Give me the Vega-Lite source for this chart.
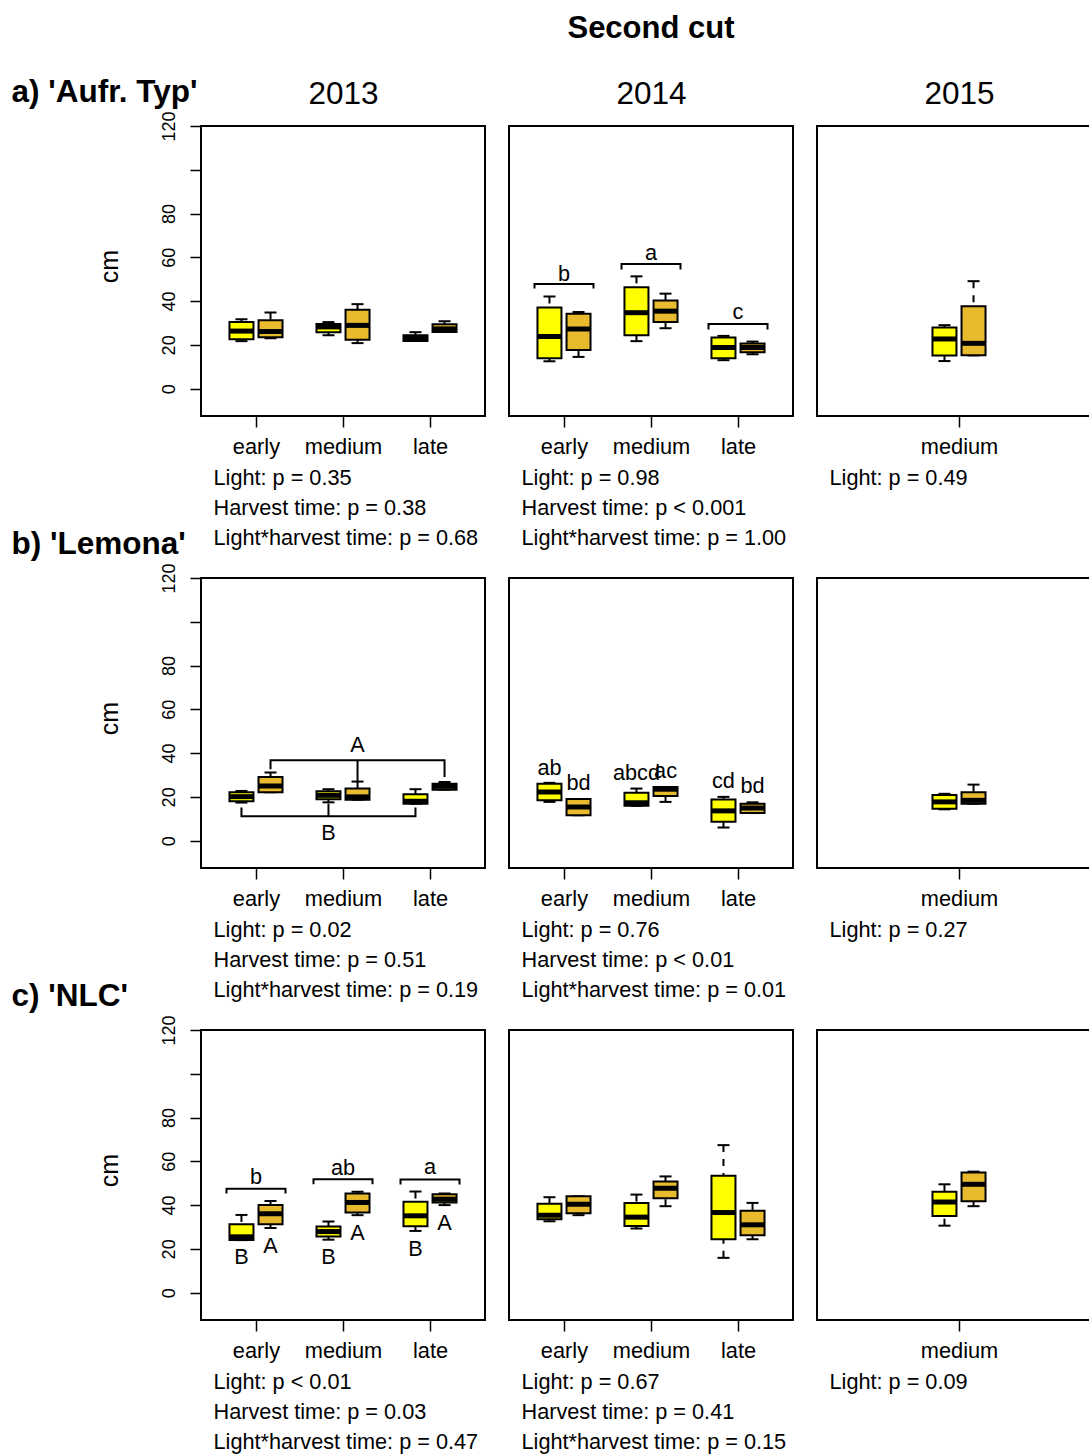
{
"$schema":"https://vega.github.io/schema/vega-lite/v6.json",
"background":"white",
"padding":{"left":10,"top":13,"right":0,"bottom":0},
"title":{"text":"Second cut","fontWeight":"bold","fontSize":31,"anchor":"middle","frame":"group","dx":450,"offset":30},
"data":{"values":[
{"k":"bx","p":"a13","h":"early","l":"L1","lo":21.7,"q1":22.6,"md":26.3,"q3":30.5,"hi":31.7},
{"k":"bx","p":"a13","h":"early","l":"L2","lo":23.0,"q1":23.5,"md":26.1,"q3":31.3,"hi":34.8},
{"k":"bx","p":"a13","h":"medium","l":"L1","lo":24.4,"q1":25.8,"md":28.2,"q3":29.5,"hi":30.4},
{"k":"bx","p":"a13","h":"medium","l":"L2","lo":20.8,"q1":22.3,"md":28.9,"q3":36.0,"hi":38.6},
{"k":"bx","p":"a13","h":"late","l":"L1","lo":21.8,"q1":21.8,"md":23.0,"q3":24.4,"hi":25.8},
{"k":"bx","p":"a13","h":"late","l":"L2","lo":25.9,"q1":25.9,"md":27.3,"q3":29.4,"hi":30.8},
{"k":"bx","p":"a14","h":"early","l":"L1","lo":12.5,"q1":13.9,"md":23.8,"q3":37.1,"hi":42.1},
{"k":"bx","p":"a14","h":"early","l":"L2","lo":14.5,"q1":17.7,"md":27.2,"q3":34.2,"hi":35.0},
{"k":"bx","p":"a14","h":"medium","l":"L1","lo":21.7,"q1":24.4,"md":34.7,"q3":46.3,"hi":51.3},
{"k":"bx","p":"a14","h":"medium","l":"L2","lo":27.6,"q1":30.5,"md":35.4,"q3":40.3,"hi":43.4},
{"k":"bx","p":"a14","h":"late","l":"L1","lo":13.0,"q1":13.9,"md":18.8,"q3":23.4,"hi":24.1},
{"k":"bx","p":"a14","h":"late","l":"L2","lo":15.7,"q1":16.6,"md":18.8,"q3":20.6,"hi":21.5},
{"k":"bx","p":"a15","h":"medium","l":"L1","lo":12.6,"q1":15.1,"md":22.7,"q3":27.9,"hi":29.0},
{"k":"bx","p":"a15","h":"medium","l":"L2","lo":15.2,"q1":15.2,"md":20.7,"q3":37.7,"hi":49.1},
{"k":"bx","p":"b13","h":"early","l":"L1","lo":17.4,"q1":18.0,"md":20.1,"q3":22.1,"hi":22.7},
{"k":"bx","p":"b13","h":"early","l":"L2","lo":22.1,"q1":22.1,"md":25.0,"q3":29.1,"hi":31.1},
{"k":"bx","p":"b13","h":"medium","l":"L1","lo":17.5,"q1":18.9,"md":20.7,"q3":22.6,"hi":23.5},
{"k":"bx","p":"b13","h":"medium","l":"L2","lo":18.7,"q1":18.7,"md":20.0,"q3":23.8,"hi":27.0},
{"k":"bx","p":"b13","h":"late","l":"L1","lo":16.9,"q1":16.9,"md":18.0,"q3":21.2,"hi":23.5},
{"k":"bx","p":"b13","h":"late","l":"L2","lo":23.3,"q1":23.3,"md":24.8,"q3":26.0,"hi":26.8},
{"k":"bx","p":"b14","h":"early","l":"L1","lo":17.7,"q1":18.4,"md":22.2,"q3":26.0,"hi":26.4},
{"k":"bx","p":"b14","h":"early","l":"L2","lo":11.6,"q1":11.6,"md":15.4,"q3":19.0,"hi":19.0},
{"k":"bx","p":"b14","h":"medium","l":"L1","lo":15.9,"q1":15.9,"md":17.3,"q3":21.9,"hi":23.8},
{"k":"bx","p":"b14","h":"medium","l":"L2","lo":17.7,"q1":20.4,"md":23.5,"q3":24.5,"hi":24.5},
{"k":"bx","p":"b14","h":"late","l":"L1","lo":6.0,"q1":8.6,"md":13.6,"q3":18.8,"hi":20.0},
{"k":"bx","p":"b14","h":"late","l":"L2","lo":12.6,"q1":12.6,"md":14.9,"q3":16.9,"hi":17.5},
{"k":"bx","p":"b15","h":"medium","l":"L1","lo":14.3,"q1":14.6,"md":17.7,"q3":20.9,"hi":21.4},
{"k":"bx","p":"b15","h":"medium","l":"L2","lo":16.9,"q1":16.9,"md":18.4,"q3":22.1,"hi":25.6},
{"k":"bx","p":"c13","h":"early","l":"L1","lo":24.0,"q1":24.0,"md":25.5,"q3":31.2,"hi":35.5},
{"k":"bx","p":"c13","h":"early","l":"L2","lo":29.5,"q1":31.2,"md":36.1,"q3":40.1,"hi":41.9},
{"k":"bx","p":"c13","h":"medium","l":"L1","lo":24.2,"q1":25.6,"md":27.9,"q3":30.2,"hi":32.5},
{"k":"bx","p":"c13","h":"medium","l":"L2","lo":35.4,"q1":36.6,"md":41.2,"q3":45.3,"hi":46.1},
{"k":"bx","p":"c13","h":"late","l":"L1","lo":28.2,"q1":30.3,"md":35.1,"q3":41.5,"hi":46.2},
{"k":"bx","p":"c13","h":"late","l":"L2","lo":40.0,"q1":41.2,"md":42.7,"q3":45.0,"hi":45.3},
{"k":"bx","p":"c14","h":"early","l":"L1","lo":32.6,"q1":33.5,"md":35.4,"q3":40.6,"hi":43.6},
{"k":"bx","p":"c14","h":"early","l":"L2","lo":35.4,"q1":36.3,"md":40.4,"q3":44.0,"hi":44.0},
{"k":"bx","p":"c14","h":"medium","l":"L1","lo":29.3,"q1":30.5,"md":34.5,"q3":40.9,"hi":44.8},
{"k":"bx","p":"c14","h":"medium","l":"L2","lo":39.5,"q1":43.1,"md":47.7,"q3":50.8,"hi":53.1},
{"k":"bx","p":"c14","h":"late","l":"L1","lo":15.9,"q1":24.4,"md":36.6,"q3":53.4,"hi":67.4},
{"k":"bx","p":"c14","h":"late","l":"L2","lo":24.4,"q1":26.2,"md":31.0,"q3":37.4,"hi":41.0},
{"k":"bx","p":"c15","h":"medium","l":"L1","lo":30.6,"q1":35.0,"md":41.4,"q3":46.1,"hi":49.5},
{"k":"bx","p":"c15","h":"medium","l":"L2","lo":39.5,"q1":41.8,"md":49.5,"q3":54.9,"hi":55.3},
{"k":"br","p":"a14","id":"b","h":"early","l":"eL","y":45.7,"o":1},
{"k":"br","p":"a14","id":"b","h":"early","l":"eL","y":47.8,"o":2},
{"k":"br","p":"a14","id":"b","h":"early","l":"eR","y":47.8,"o":3},
{"k":"br","p":"a14","id":"b","h":"early","l":"eR","y":45.7,"o":4},
{"k":"br","p":"a14","id":"a","h":"medium","l":"eL","y":54.4,"o":1},
{"k":"br","p":"a14","id":"a","h":"medium","l":"eL","y":56.9,"o":2},
{"k":"br","p":"a14","id":"a","h":"medium","l":"eR","y":56.9,"o":3},
{"k":"br","p":"a14","id":"a","h":"medium","l":"eR","y":54.4,"o":4},
{"k":"br","p":"a14","id":"c","h":"late","l":"eL","y":27.0,"o":1},
{"k":"br","p":"a14","id":"c","h":"late","l":"eL","y":29.5,"o":2},
{"k":"br","p":"a14","id":"c","h":"late","l":"eR","y":29.5,"o":3},
{"k":"br","p":"a14","id":"c","h":"late","l":"eR","y":27.0,"o":4},
{"k":"br","p":"b13","id":"A","h":"early","l":"L2","y":32.6,"o":1},
{"k":"br","p":"b13","id":"A","h":"early","l":"L2","y":36.7,"o":2},
{"k":"br","p":"b13","id":"A","h":"late","l":"L2","y":36.7,"o":3},
{"k":"br","p":"b13","id":"A","h":"late","l":"L2","y":29.1,"o":4},
{"k":"br","p":"b13","id":"A2","h":"medium","l":"L2","y":36.7,"o":1},
{"k":"br","p":"b13","id":"A2","h":"medium","l":"L2","y":27.3,"o":2},
{"k":"br","p":"b13","id":"B","h":"early","l":"L1","y":15.1,"o":1},
{"k":"br","p":"b13","id":"B","h":"early","l":"L1","y":11.1,"o":2},
{"k":"br","p":"b13","id":"B","h":"late","l":"L1","y":11.1,"o":3},
{"k":"br","p":"b13","id":"B","h":"late","l":"L1","y":15.1,"o":4},
{"k":"br","p":"b13","id":"B2","h":"medium","l":"L1","y":11.1,"o":1},
{"k":"br","p":"b13","id":"B2","h":"medium","l":"L1","y":16.9,"o":2},
{"k":"br","p":"c13","id":"b","h":"early","l":"eL","y":45.3,"o":1},
{"k":"br","p":"c13","id":"b","h":"early","l":"eL","y":47.5,"o":2},
{"k":"br","p":"c13","id":"b","h":"early","l":"eR","y":47.5,"o":3},
{"k":"br","p":"c13","id":"b","h":"early","l":"eR","y":45.3,"o":4},
{"k":"br","p":"c13","id":"ab","h":"medium","l":"eL","y":49.5,"o":1},
{"k":"br","p":"c13","id":"ab","h":"medium","l":"eL","y":51.8,"o":2},
{"k":"br","p":"c13","id":"ab","h":"medium","l":"eR","y":51.8,"o":3},
{"k":"br","p":"c13","id":"ab","h":"medium","l":"eR","y":49.5,"o":4},
{"k":"br","p":"c13","id":"a","h":"late","l":"eL","y":49.4,"o":1},
{"k":"br","p":"c13","id":"a","h":"late","l":"eL","y":51.7,"o":2},
{"k":"br","p":"c13","id":"a","h":"late","l":"eR","y":51.7,"o":3},
{"k":"br","p":"c13","id":"a","h":"late","l":"eR","y":49.4,"o":4},
{"k":"lt","p":"a14","h":"early","l":"m","y":49.4,"t":"b"},
{"k":"lt","p":"a14","h":"medium","l":"m","y":59.0,"t":"a"},
{"k":"lt","p":"a14","h":"late","l":"m","y":32.0,"t":"c"},
{"k":"lt","p":"b13","h":"medium","l":"L2","y":40.5,"t":"A"},
{"k":"lt","p":"b13","h":"medium","l":"L1","y":0.1,"t":"B"},
{"k":"lt","p":"b14","h":"early","l":"L1","y":29.9,"t":"ab"},
{"k":"lt","p":"b14","h":"early","l":"L2","y":23.0,"t":"bd"},
{"k":"lt","p":"b14","h":"medium","l":"L1","y":27.9,"t":"abcd"},
{"k":"lt","p":"b14","h":"medium","l":"L2","y":28.8,"t":"ac"},
{"k":"lt","p":"b14","h":"late","l":"L1","y":24.2,"t":"cd"},
{"k":"lt","p":"b14","h":"late","l":"L2","y":21.8,"t":"bd"},
{"k":"lt","p":"c13","h":"early","l":"m","y":49.5,"t":"b"},
{"k":"lt","p":"c13","h":"medium","l":"m","y":53.7,"t":"ab"},
{"k":"lt","p":"c13","h":"late","l":"m","y":54.1,"t":"a"},
{"k":"lt","p":"c13","h":"early","l":"L1","y":12.9,"t":"B"},
{"k":"lt","p":"c13","h":"early","l":"L2","y":18.3,"t":"A"},
{"k":"lt","p":"c13","h":"medium","l":"L1","y":12.9,"t":"B"},
{"k":"lt","p":"c13","h":"medium","l":"L2","y":24.1,"t":"A"},
{"k":"lt","p":"c13","h":"late","l":"L1","y":16.7,"t":"B"},
{"k":"lt","p":"c13","h":"late","l":"L2","y":28.5,"t":"A"}
]},
"transform":[{"calculate":"(datum.h == 'early' ? 1 : datum.h == 'medium' ? 2 : 3) + (datum.l == 'L1' ? -0.167 : datum.l == 'L2' ? 0.167 : datum.l == 'eL' ? -0.339 : datum.l == 'eR' ? 0.339 : 0)","as":"xp"}],
"columns":3,
"spacing":{"row":162,"column":24},
"bounds":"flush",
"concat":[
 {"width":284,"height":290,"transform":[{"filter":"datum.p == 'a13'"}],"resolve":{"axis":{"x":"independent","y":"independent"}},
  "encoding":{"x":{"field":"xp","type":"quantitative","scale":{"domain":[0.368,3.632],"nice":false,"zero":false,"padding":0},"axis":null}},
  "layer":[
   {"transform":[{"filter":"datum.k == 'bx'"}],"mark":{"type":"rule","strokeDash":[7,7],"strokeWidth":2,"color":"black"},"encoding":{"y":{"field":"hi","type":"quantitative","scale":{"domain":[-12.5,120],"nice":false,"zero":false},"axis":{"orient":"right","title":"a) 'Aufr. Typ'"}},"y2":{"field":"q3"}}},
   {"transform":[{"filter":"datum.k == 'bx'"}],"mark":{"type":"rule","strokeDash":[7,7],"strokeWidth":2,"color":"black"},"encoding":{"y":{"field":"lo","type":"quantitative","scale":{"domain":[-12.5,120],"nice":false,"zero":false},"axis":null},"y2":{"field":"q1"}}},
   {"transform":[{"filter":"datum.k == 'bx'"},{"fold":["lo","hi"],"as":["w","v"]}],"mark":{"type":"tick","orient":"horizontal","size":12,"thickness":2,"color":"black","opacity":1},"encoding":{"y":{"field":"v","type":"quantitative","scale":{"domain":[-12.5,120],"nice":false,"zero":false},"axis":null}}},
   {"transform":[{"filter":"datum.k == 'bx'"}],"mark":{"type":"bar","size":24,"stroke":"black","strokeWidth":2,"opacity":1},"encoding":{"x":{"field":"xp","type":"quantitative","scale":{"domain":[0.368,3.632],"nice":false,"zero":false,"padding":0},"axis":{"orient":"bottom","values":[1,2,3],"title":["Light: p = 0.35","Harvest time: p = 0.38","Light*harvest time: p = 0.68"]}},"y":{"field":"q1","type":"quantitative","scale":{"domain":[-12.5,120],"nice":false,"zero":false},"axis":{"orient":"left","title":"cm","values":[0,20,40,60,80,100,120]}},"y2":{"field":"q3"},"color":{"field":"l","type":"nominal","scale":{"domain":["L1","L2"],"range":["#FFFF00","#E8BA2E"]},"legend":null}}},
   {"transform":[{"filter":"datum.k == 'bx'"}],"mark":{"type":"tick","orient":"horizontal","size":24,"thickness":5,"color":"black","opacity":1},"encoding":{"x":{"field":"xp","type":"quantitative","scale":{"domain":[0.368,3.632],"nice":false,"zero":false,"padding":0},"axis":{"orient":"top","title":"2013"}},"y":{"field":"md","type":"quantitative","scale":{"domain":[-12.5,120],"nice":false,"zero":false},"axis":null}}}
  ]},
 {"width":284,"height":290,"transform":[{"filter":"datum.p == 'a14'"}],"resolve":{"axis":{"x":"independent","y":"independent"}},
  "encoding":{"x":{"field":"xp","type":"quantitative","scale":{"domain":[0.368,3.632],"nice":false,"zero":false,"padding":0},"axis":null}},
  "layer":[
   {"transform":[{"filter":"datum.k == 'bx'"}],"mark":{"type":"rule","strokeDash":[7,7],"strokeWidth":2,"color":"black"},"encoding":{"y":{"field":"hi","type":"quantitative","scale":{"domain":[-12.5,120],"nice":false,"zero":false},"axis":null},"y2":{"field":"q3"}}},
   {"transform":[{"filter":"datum.k == 'bx'"}],"mark":{"type":"rule","strokeDash":[7,7],"strokeWidth":2,"color":"black"},"encoding":{"y":{"field":"lo","type":"quantitative","scale":{"domain":[-12.5,120],"nice":false,"zero":false},"axis":null},"y2":{"field":"q1"}}},
   {"transform":[{"filter":"datum.k == 'bx'"},{"fold":["lo","hi"],"as":["w","v"]}],"mark":{"type":"tick","orient":"horizontal","size":12,"thickness":2,"color":"black","opacity":1},"encoding":{"y":{"field":"v","type":"quantitative","scale":{"domain":[-12.5,120],"nice":false,"zero":false},"axis":null}}},
   {"transform":[{"filter":"datum.k == 'bx'"}],"mark":{"type":"bar","size":24,"stroke":"black","strokeWidth":2,"opacity":1},"encoding":{"x":{"field":"xp","type":"quantitative","scale":{"domain":[0.368,3.632],"nice":false,"zero":false,"padding":0},"axis":{"orient":"bottom","values":[1,2,3],"title":["Light: p = 0.98","Harvest time: p < 0.001","Light*harvest time: p = 1.00"]}},"y":{"field":"q1","type":"quantitative","scale":{"domain":[-12.5,120],"nice":false,"zero":false},"axis":null},"y2":{"field":"q3"},"color":{"field":"l","type":"nominal","scale":{"domain":["L1","L2"],"range":["#FFFF00","#E8BA2E"]},"legend":null}}},
   {"transform":[{"filter":"datum.k == 'bx'"}],"mark":{"type":"tick","orient":"horizontal","size":24,"thickness":5,"color":"black","opacity":1},"encoding":{"x":{"field":"xp","type":"quantitative","scale":{"domain":[0.368,3.632],"nice":false,"zero":false,"padding":0},"axis":{"orient":"top","title":"2014"}},"y":{"field":"md","type":"quantitative","scale":{"domain":[-12.5,120],"nice":false,"zero":false},"axis":null}}},
   {"transform":[{"filter":"datum.k == 'br'"}],"mark":{"type":"line","strokeWidth":2,"color":"black","opacity":1},"encoding":{"y":{"field":"y","type":"quantitative","scale":{"domain":[-12.5,120],"nice":false,"zero":false},"axis":null},"detail":{"field":"id"},"order":{"field":"o","type":"quantitative"}}},
   {"transform":[{"filter":"datum.k == 'lt'"}],"mark":{"type":"text","baseline":"alphabetic","align":"center","fontSize":21.7,"color":"black"},"encoding":{"y":{"field":"y","type":"quantitative","scale":{"domain":[-12.5,120],"nice":false,"zero":false},"axis":null},"text":{"field":"t"}}}
  ]},
 {"width":284,"height":290,"transform":[{"filter":"datum.p == 'a15'"}],"resolve":{"axis":{"x":"independent","y":"independent"}},
  "encoding":{"x":{"field":"xp","type":"quantitative","scale":{"domain":[0.368,3.632],"nice":false,"zero":false,"padding":0},"axis":null}},
  "layer":[
   {"transform":[{"filter":"datum.k == 'bx'"}],"mark":{"type":"rule","strokeDash":[7,7],"strokeWidth":2,"color":"black"},"encoding":{"y":{"field":"hi","type":"quantitative","scale":{"domain":[-12.5,120],"nice":false,"zero":false},"axis":null},"y2":{"field":"q3"}}},
   {"transform":[{"filter":"datum.k == 'bx'"}],"mark":{"type":"rule","strokeDash":[7,7],"strokeWidth":2,"color":"black"},"encoding":{"y":{"field":"lo","type":"quantitative","scale":{"domain":[-12.5,120],"nice":false,"zero":false},"axis":null},"y2":{"field":"q1"}}},
   {"transform":[{"filter":"datum.k == 'bx'"},{"fold":["lo","hi"],"as":["w","v"]}],"mark":{"type":"tick","orient":"horizontal","size":12,"thickness":2,"color":"black","opacity":1},"encoding":{"y":{"field":"v","type":"quantitative","scale":{"domain":[-12.5,120],"nice":false,"zero":false},"axis":null}}},
   {"transform":[{"filter":"datum.k == 'bx'"}],"mark":{"type":"bar","size":24,"stroke":"black","strokeWidth":2,"opacity":1},"encoding":{"x":{"field":"xp","type":"quantitative","scale":{"domain":[0.368,3.632],"nice":false,"zero":false,"padding":0},"axis":{"orient":"bottom","values":[2],"title":"Light: p = 0.49"}},"y":{"field":"q1","type":"quantitative","scale":{"domain":[-12.5,120],"nice":false,"zero":false},"axis":null},"y2":{"field":"q3"},"color":{"field":"l","type":"nominal","scale":{"domain":["L1","L2"],"range":["#FFFF00","#E8BA2E"]},"legend":null}}},
   {"transform":[{"filter":"datum.k == 'bx'"}],"mark":{"type":"tick","orient":"horizontal","size":24,"thickness":5,"color":"black","opacity":1},"encoding":{"x":{"field":"xp","type":"quantitative","scale":{"domain":[0.368,3.632],"nice":false,"zero":false,"padding":0},"axis":{"orient":"top","title":"2015"}},"y":{"field":"md","type":"quantitative","scale":{"domain":[-12.5,120],"nice":false,"zero":false},"axis":null}}}
  ]},
 {"width":284,"height":290,"transform":[{"filter":"datum.p == 'b13'"}],"resolve":{"axis":{"x":"independent","y":"independent"}},
  "encoding":{"x":{"field":"xp","type":"quantitative","scale":{"domain":[0.368,3.632],"nice":false,"zero":false,"padding":0},"axis":null}},
  "layer":[
   {"transform":[{"filter":"datum.k == 'bx'"}],"mark":{"type":"rule","strokeDash":[7,7],"strokeWidth":2,"color":"black"},"encoding":{"y":{"field":"hi","type":"quantitative","scale":{"domain":[-12.5,120],"nice":false,"zero":false},"axis":{"orient":"right","title":"b) 'Lemona'"}},"y2":{"field":"q3"}}},
   {"transform":[{"filter":"datum.k == 'bx'"}],"mark":{"type":"rule","strokeDash":[7,7],"strokeWidth":2,"color":"black"},"encoding":{"y":{"field":"lo","type":"quantitative","scale":{"domain":[-12.5,120],"nice":false,"zero":false},"axis":null},"y2":{"field":"q1"}}},
   {"transform":[{"filter":"datum.k == 'bx'"},{"fold":["lo","hi"],"as":["w","v"]}],"mark":{"type":"tick","orient":"horizontal","size":12,"thickness":2,"color":"black","opacity":1},"encoding":{"y":{"field":"v","type":"quantitative","scale":{"domain":[-12.5,120],"nice":false,"zero":false},"axis":null}}},
   {"transform":[{"filter":"datum.k == 'bx'"}],"mark":{"type":"bar","size":24,"stroke":"black","strokeWidth":2,"opacity":1},"encoding":{"x":{"field":"xp","type":"quantitative","scale":{"domain":[0.368,3.632],"nice":false,"zero":false,"padding":0},"axis":{"orient":"bottom","values":[1,2,3],"title":["Light: p = 0.02","Harvest time: p = 0.51","Light*harvest time: p = 0.19"]}},"y":{"field":"q1","type":"quantitative","scale":{"domain":[-12.5,120],"nice":false,"zero":false},"axis":{"orient":"left","title":"cm","values":[0,20,40,60,80,100,120]}},"y2":{"field":"q3"},"color":{"field":"l","type":"nominal","scale":{"domain":["L1","L2"],"range":["#FFFF00","#E8BA2E"]},"legend":null}}},
   {"transform":[{"filter":"datum.k == 'bx'"}],"mark":{"type":"tick","orient":"horizontal","size":24,"thickness":5,"color":"black","opacity":1},"encoding":{"y":{"field":"md","type":"quantitative","scale":{"domain":[-12.5,120],"nice":false,"zero":false},"axis":null}}},
   {"transform":[{"filter":"datum.k == 'br'"}],"mark":{"type":"line","strokeWidth":2,"color":"black","opacity":1},"encoding":{"y":{"field":"y","type":"quantitative","scale":{"domain":[-12.5,120],"nice":false,"zero":false},"axis":null},"detail":{"field":"id"},"order":{"field":"o","type":"quantitative"}}},
   {"transform":[{"filter":"datum.k == 'lt'"}],"mark":{"type":"text","baseline":"alphabetic","align":"center","fontSize":21.7,"color":"black"},"encoding":{"y":{"field":"y","type":"quantitative","scale":{"domain":[-12.5,120],"nice":false,"zero":false},"axis":null},"text":{"field":"t"}}}
  ]},
 {"width":284,"height":290,"transform":[{"filter":"datum.p == 'b14'"}],"resolve":{"axis":{"x":"independent","y":"independent"}},
  "encoding":{"x":{"field":"xp","type":"quantitative","scale":{"domain":[0.368,3.632],"nice":false,"zero":false,"padding":0},"axis":null}},
  "layer":[
   {"transform":[{"filter":"datum.k == 'bx'"}],"mark":{"type":"rule","strokeDash":[7,7],"strokeWidth":2,"color":"black"},"encoding":{"y":{"field":"hi","type":"quantitative","scale":{"domain":[-12.5,120],"nice":false,"zero":false},"axis":null},"y2":{"field":"q3"}}},
   {"transform":[{"filter":"datum.k == 'bx'"}],"mark":{"type":"rule","strokeDash":[7,7],"strokeWidth":2,"color":"black"},"encoding":{"y":{"field":"lo","type":"quantitative","scale":{"domain":[-12.5,120],"nice":false,"zero":false},"axis":null},"y2":{"field":"q1"}}},
   {"transform":[{"filter":"datum.k == 'bx'"},{"fold":["lo","hi"],"as":["w","v"]}],"mark":{"type":"tick","orient":"horizontal","size":12,"thickness":2,"color":"black","opacity":1},"encoding":{"y":{"field":"v","type":"quantitative","scale":{"domain":[-12.5,120],"nice":false,"zero":false},"axis":null}}},
   {"transform":[{"filter":"datum.k == 'bx'"}],"mark":{"type":"bar","size":24,"stroke":"black","strokeWidth":2,"opacity":1},"encoding":{"x":{"field":"xp","type":"quantitative","scale":{"domain":[0.368,3.632],"nice":false,"zero":false,"padding":0},"axis":{"orient":"bottom","values":[1,2,3],"title":["Light: p = 0.76","Harvest time: p < 0.01","Light*harvest time: p = 0.01"]}},"y":{"field":"q1","type":"quantitative","scale":{"domain":[-12.5,120],"nice":false,"zero":false},"axis":null},"y2":{"field":"q3"},"color":{"field":"l","type":"nominal","scale":{"domain":["L1","L2"],"range":["#FFFF00","#E8BA2E"]},"legend":null}}},
   {"transform":[{"filter":"datum.k == 'bx'"}],"mark":{"type":"tick","orient":"horizontal","size":24,"thickness":5,"color":"black","opacity":1},"encoding":{"y":{"field":"md","type":"quantitative","scale":{"domain":[-12.5,120],"nice":false,"zero":false},"axis":null}}},
   {"transform":[{"filter":"datum.k == 'lt'"}],"mark":{"type":"text","baseline":"alphabetic","align":"center","fontSize":21.7,"color":"black"},"encoding":{"y":{"field":"y","type":"quantitative","scale":{"domain":[-12.5,120],"nice":false,"zero":false},"axis":null},"text":{"field":"t"}}}
  ]},
 {"width":284,"height":290,"transform":[{"filter":"datum.p == 'b15'"}],"resolve":{"axis":{"x":"independent","y":"independent"}},
  "encoding":{"x":{"field":"xp","type":"quantitative","scale":{"domain":[0.368,3.632],"nice":false,"zero":false,"padding":0},"axis":null}},
  "layer":[
   {"transform":[{"filter":"datum.k == 'bx'"}],"mark":{"type":"rule","strokeDash":[7,7],"strokeWidth":2,"color":"black"},"encoding":{"y":{"field":"hi","type":"quantitative","scale":{"domain":[-12.5,120],"nice":false,"zero":false},"axis":null},"y2":{"field":"q3"}}},
   {"transform":[{"filter":"datum.k == 'bx'"}],"mark":{"type":"rule","strokeDash":[7,7],"strokeWidth":2,"color":"black"},"encoding":{"y":{"field":"lo","type":"quantitative","scale":{"domain":[-12.5,120],"nice":false,"zero":false},"axis":null},"y2":{"field":"q1"}}},
   {"transform":[{"filter":"datum.k == 'bx'"},{"fold":["lo","hi"],"as":["w","v"]}],"mark":{"type":"tick","orient":"horizontal","size":12,"thickness":2,"color":"black","opacity":1},"encoding":{"y":{"field":"v","type":"quantitative","scale":{"domain":[-12.5,120],"nice":false,"zero":false},"axis":null}}},
   {"transform":[{"filter":"datum.k == 'bx'"}],"mark":{"type":"bar","size":24,"stroke":"black","strokeWidth":2,"opacity":1},"encoding":{"x":{"field":"xp","type":"quantitative","scale":{"domain":[0.368,3.632],"nice":false,"zero":false,"padding":0},"axis":{"orient":"bottom","values":[2],"title":"Light: p = 0.27"}},"y":{"field":"q1","type":"quantitative","scale":{"domain":[-12.5,120],"nice":false,"zero":false},"axis":null},"y2":{"field":"q3"},"color":{"field":"l","type":"nominal","scale":{"domain":["L1","L2"],"range":["#FFFF00","#E8BA2E"]},"legend":null}}},
   {"transform":[{"filter":"datum.k == 'bx'"}],"mark":{"type":"tick","orient":"horizontal","size":24,"thickness":5,"color":"black","opacity":1},"encoding":{"y":{"field":"md","type":"quantitative","scale":{"domain":[-12.5,120],"nice":false,"zero":false},"axis":null}}}
  ]},
 {"width":284,"height":290,"transform":[{"filter":"datum.p == 'c13'"}],"resolve":{"axis":{"x":"independent","y":"independent"}},
  "encoding":{"x":{"field":"xp","type":"quantitative","scale":{"domain":[0.368,3.632],"nice":false,"zero":false,"padding":0},"axis":null}},
  "layer":[
   {"transform":[{"filter":"datum.k == 'bx'"}],"mark":{"type":"rule","strokeDash":[7,7],"strokeWidth":2,"color":"black"},"encoding":{"y":{"field":"hi","type":"quantitative","scale":{"domain":[-12.5,120],"nice":false,"zero":false},"axis":{"orient":"right","title":"c) 'NLC'"}},"y2":{"field":"q3"}}},
   {"transform":[{"filter":"datum.k == 'bx'"}],"mark":{"type":"rule","strokeDash":[7,7],"strokeWidth":2,"color":"black"},"encoding":{"y":{"field":"lo","type":"quantitative","scale":{"domain":[-12.5,120],"nice":false,"zero":false},"axis":null},"y2":{"field":"q1"}}},
   {"transform":[{"filter":"datum.k == 'bx'"},{"fold":["lo","hi"],"as":["w","v"]}],"mark":{"type":"tick","orient":"horizontal","size":12,"thickness":2,"color":"black","opacity":1},"encoding":{"y":{"field":"v","type":"quantitative","scale":{"domain":[-12.5,120],"nice":false,"zero":false},"axis":null}}},
   {"transform":[{"filter":"datum.k == 'bx'"}],"mark":{"type":"bar","size":24,"stroke":"black","strokeWidth":2,"opacity":1},"encoding":{"x":{"field":"xp","type":"quantitative","scale":{"domain":[0.368,3.632],"nice":false,"zero":false,"padding":0},"axis":{"orient":"bottom","values":[1,2,3],"title":["Light: p < 0.01","Harvest time: p = 0.03","Light*harvest time: p = 0.47"]}},"y":{"field":"q1","type":"quantitative","scale":{"domain":[-12.5,120],"nice":false,"zero":false},"axis":{"orient":"left","title":"cm","values":[0,20,40,60,80,100,120]}},"y2":{"field":"q3"},"color":{"field":"l","type":"nominal","scale":{"domain":["L1","L2"],"range":["#FFFF00","#E8BA2E"]},"legend":null}}},
   {"transform":[{"filter":"datum.k == 'bx'"}],"mark":{"type":"tick","orient":"horizontal","size":24,"thickness":5,"color":"black","opacity":1},"encoding":{"y":{"field":"md","type":"quantitative","scale":{"domain":[-12.5,120],"nice":false,"zero":false},"axis":null}}},
   {"transform":[{"filter":"datum.k == 'br'"}],"mark":{"type":"line","strokeWidth":2,"color":"black","opacity":1},"encoding":{"y":{"field":"y","type":"quantitative","scale":{"domain":[-12.5,120],"nice":false,"zero":false},"axis":null},"detail":{"field":"id"},"order":{"field":"o","type":"quantitative"}}},
   {"transform":[{"filter":"datum.k == 'lt'"}],"mark":{"type":"text","baseline":"alphabetic","align":"center","fontSize":21.7,"color":"black"},"encoding":{"y":{"field":"y","type":"quantitative","scale":{"domain":[-12.5,120],"nice":false,"zero":false},"axis":null},"text":{"field":"t"}}}
  ]},
 {"width":284,"height":290,"transform":[{"filter":"datum.p == 'c14'"}],"resolve":{"axis":{"x":"independent","y":"independent"}},
  "encoding":{"x":{"field":"xp","type":"quantitative","scale":{"domain":[0.368,3.632],"nice":false,"zero":false,"padding":0},"axis":null}},
  "layer":[
   {"transform":[{"filter":"datum.k == 'bx'"}],"mark":{"type":"rule","strokeDash":[7,7],"strokeWidth":2,"color":"black"},"encoding":{"y":{"field":"hi","type":"quantitative","scale":{"domain":[-12.5,120],"nice":false,"zero":false},"axis":null},"y2":{"field":"q3"}}},
   {"transform":[{"filter":"datum.k == 'bx'"}],"mark":{"type":"rule","strokeDash":[7,7],"strokeWidth":2,"color":"black"},"encoding":{"y":{"field":"lo","type":"quantitative","scale":{"domain":[-12.5,120],"nice":false,"zero":false},"axis":null},"y2":{"field":"q1"}}},
   {"transform":[{"filter":"datum.k == 'bx'"},{"fold":["lo","hi"],"as":["w","v"]}],"mark":{"type":"tick","orient":"horizontal","size":12,"thickness":2,"color":"black","opacity":1},"encoding":{"y":{"field":"v","type":"quantitative","scale":{"domain":[-12.5,120],"nice":false,"zero":false},"axis":null}}},
   {"transform":[{"filter":"datum.k == 'bx'"}],"mark":{"type":"bar","size":24,"stroke":"black","strokeWidth":2,"opacity":1},"encoding":{"x":{"field":"xp","type":"quantitative","scale":{"domain":[0.368,3.632],"nice":false,"zero":false,"padding":0},"axis":{"orient":"bottom","values":[1,2,3],"title":["Light: p = 0.67","Harvest time: p = 0.41","Light*harvest time: p = 0.15"]}},"y":{"field":"q1","type":"quantitative","scale":{"domain":[-12.5,120],"nice":false,"zero":false},"axis":null},"y2":{"field":"q3"},"color":{"field":"l","type":"nominal","scale":{"domain":["L1","L2"],"range":["#FFFF00","#E8BA2E"]},"legend":null}}},
   {"transform":[{"filter":"datum.k == 'bx'"}],"mark":{"type":"tick","orient":"horizontal","size":24,"thickness":5,"color":"black","opacity":1},"encoding":{"y":{"field":"md","type":"quantitative","scale":{"domain":[-12.5,120],"nice":false,"zero":false},"axis":null}}}
  ]},
 {"width":284,"height":290,"transform":[{"filter":"datum.p == 'c15'"}],"resolve":{"axis":{"x":"independent","y":"independent"}},
  "encoding":{"x":{"field":"xp","type":"quantitative","scale":{"domain":[0.368,3.632],"nice":false,"zero":false,"padding":0},"axis":null}},
  "layer":[
   {"transform":[{"filter":"datum.k == 'bx'"}],"mark":{"type":"rule","strokeDash":[7,7],"strokeWidth":2,"color":"black"},"encoding":{"y":{"field":"hi","type":"quantitative","scale":{"domain":[-12.5,120],"nice":false,"zero":false},"axis":null},"y2":{"field":"q3"}}},
   {"transform":[{"filter":"datum.k == 'bx'"}],"mark":{"type":"rule","strokeDash":[7,7],"strokeWidth":2,"color":"black"},"encoding":{"y":{"field":"lo","type":"quantitative","scale":{"domain":[-12.5,120],"nice":false,"zero":false},"axis":null},"y2":{"field":"q1"}}},
   {"transform":[{"filter":"datum.k == 'bx'"},{"fold":["lo","hi"],"as":["w","v"]}],"mark":{"type":"tick","orient":"horizontal","size":12,"thickness":2,"color":"black","opacity":1},"encoding":{"y":{"field":"v","type":"quantitative","scale":{"domain":[-12.5,120],"nice":false,"zero":false},"axis":null}}},
   {"transform":[{"filter":"datum.k == 'bx'"}],"mark":{"type":"bar","size":24,"stroke":"black","strokeWidth":2,"opacity":1},"encoding":{"x":{"field":"xp","type":"quantitative","scale":{"domain":[0.368,3.632],"nice":false,"zero":false,"padding":0},"axis":{"orient":"bottom","values":[2],"title":"Light: p = 0.09"}},"y":{"field":"q1","type":"quantitative","scale":{"domain":[-12.5,120],"nice":false,"zero":false},"axis":null},"y2":{"field":"q3"},"color":{"field":"l","type":"nominal","scale":{"domain":["L1","L2"],"range":["#FFFF00","#E8BA2E"]},"legend":null}}},
   {"transform":[{"filter":"datum.k == 'bx'"}],"mark":{"type":"tick","orient":"horizontal","size":24,"thickness":5,"color":"black","opacity":1},"encoding":{"y":{"field":"md","type":"quantitative","scale":{"domain":[-12.5,120],"nice":false,"zero":false},"axis":null}}}
  ]}
],
"config":{
 "font":"Liberation Sans",
 "view":{"stroke":"black","strokeWidth":2},
 "axis":{"grid":false,"domain":false,"tickColor":"black","tickWidth":1.5,"tickSize":11,"labelColor":"black","titleColor":"black","titleFontWeight":"normal","labelFont":"Liberation Sans","titleFont":"Liberation Sans","labelFlush":false},
 "axisBottom":{"labelFontSize":21.8,"labelPadding":9,"titleFontSize":21.7,"titleAnchor":"start","titleAlign":"left","titleX":12,"titleY":51,"titleBaseline":"top","titleLineHeight":30,"labelExpr":"datum.value == 1 ? 'early' : datum.value == 2 ? 'medium' : 'late'"},
 "axisTop":{"ticks":false,"labels":false,"domain":false,"titleFontSize":31.5,"titleAlign":"center","titleAnchor":"middle","titleX":142,"titleY":-23,"titleBaseline":"alphabetic"},
 "axisLeft":{"labelFontSize":18,"labelAngle":270,"labelAlign":"center","labelBaseline":"bottom","labelPadding":12,"labelExpr":"datum.value == 100 ? '' : datum.label","titleFontSize":25,"titleAngle":270,"titleX":-92,"titleY":140,"titleBaseline":"middle","titleAlign":"center"},
 "axisRight":{"ticks":false,"labels":false,"domain":false,"titleFontSize":31.5,"titleFontWeight":"bold","titleAngle":0,"titleAlign":"left","titleAnchor":"start","titleBaseline":"alphabetic","titleX":-474,"titleY":-25},
 "title":{"fontSize":30,"fontWeight":"normal","color":"black","font":"Liberation Sans"}
}
}
